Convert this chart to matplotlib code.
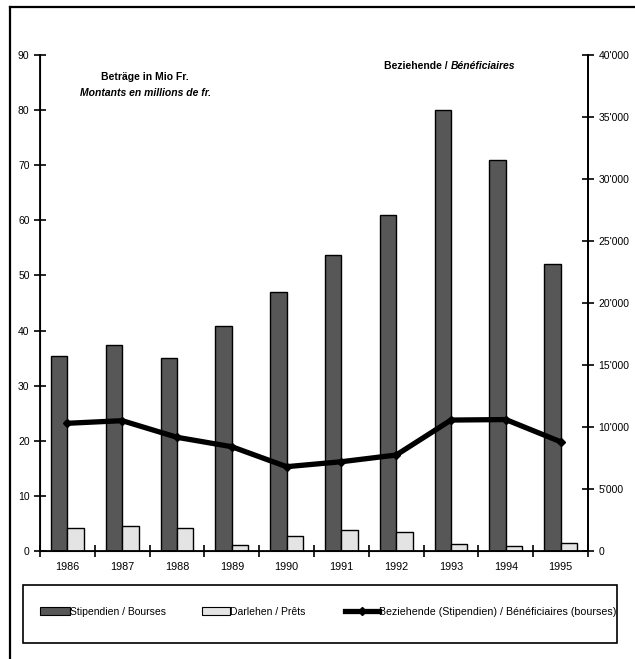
import matplotlib
matplotlib.use("Agg")
import matplotlib.pyplot as plt
from matplotlib.patches import Rectangle, Patch
from matplotlib.lines import Line2D

plt.rcParams['font.family'] = ['Liberation Sans', 'DejaVu Sans']

years = ['1986', '1987', '1988', '1989', '1990', '1991', '1992', '1993', '1994', '1995']
stipendien = [35.4, 37.4, 35.0, 40.8, 47.0, 53.7, 61.0, 80.0, 71.0, 52.0]
darlehen = [4.1, 4.6, 4.1, 1.1, 2.8, 3.8, 3.5, 1.2, 0.9, 1.5]
beziehende = [10300, 10510, 9170, 8410, 6800, 7200, 7740, 10560, 10600, 8810]

left_ticks = list(range(0, 91, 10))
right_ticks = list(range(0, 40001, 5000))
right_labels = ['0' if v == 0 else f"{v // 1000}'{v % 1000:03d}" for v in right_ticks]

W, H = 635, 659
fig = plt.figure(figsize=(W / 100, H / 100), dpi=100)

def fx(px):
    return px / W

def fy(py):
    return 1 - py / H

ax = fig.add_axes([fx(40), fy(551), fx(588) - fx(40), fy(55) - fy(551)])
x = list(range(len(years)))
bw = 0.3
dark = '#575757'
light = '#e4e4e4'
ax.bar([i - bw / 2 for i in x], stipendien, width=bw, color=dark, edgecolor='black', linewidth=1.0, zorder=2)
ax.bar([i + bw / 2 for i in x], darlehen, width=bw, color=light, edgecolor='black', linewidth=1.0, zorder=2)
ax.set_xlim(-0.5, len(years) - 0.5)
ax.set_ylim(0, 90)
ax.set_yticks(left_ticks)
ax.set_xticks(x)
ax.set_xticklabels(years)
ax.set_xticks([i - 0.5 for i in range(len(years) + 1)], minor=True)
ax.tick_params(axis='x', which='major', length=0, pad=8, labelsize=7.8)
ax.tick_params(axis='x', which='minor', direction='inout', length=9, width=1.2)
ax.tick_params(axis='y', direction='inout', length=9, width=1.2, labelsize=7.5, pad=3)
ax.spines['top'].set_visible(False)
for s in ['left', 'right', 'bottom']:
    ax.spines[s].set_linewidth(1.3)

ax2 = ax.twinx()
ax2.plot(x, beziehende, color='black', linewidth=3.8, marker='D', markersize=4, zorder=5)
ax2.set_ylim(0, 40000)
ax2.set_yticks(right_ticks)
ax2.set_yticklabels(right_labels)
ax2.tick_params(axis='y', direction='inout', length=9, width=1.2, labelsize=7.5, pad=3)
ax2.spines['top'].set_visible(False)
ax2.spines['right'].set_linewidth(1.3)

fig.text(fx(145), fy(77), 'Beträge in Mio Fr.', ha='center', va='center', fontsize=7.5, fontweight='bold')
fig.text(fx(145), fy(93), 'Montants en millions de fr.', ha='center', va='center', fontsize=7.5,
         fontweight='bold', fontstyle='italic')
fig.text(fx(451), fy(66), 'Beziehende / ', ha='right', va='center', fontsize=7.5, fontweight='bold')
fig.text(fx(451), fy(66), 'Bénéficiaires', ha='left', va='center', fontsize=7.5, fontweight='bold',
         fontstyle='italic')

# outer frame (top & left)
fig.add_artist(Line2D([fx(10), 1.0], [fy(7), fy(7)], color='black', linewidth=1.6))
fig.add_artist(Line2D([fx(10), fx(10)], [fy(7), 0.0], color='black', linewidth=1.6))

# legend box
fig.add_artist(Rectangle((fx(23), fy(643)), fx(617) - fx(23), fy(585) - fy(643), fill=False,
                         edgecolor='black', linewidth=1.2))
handles = [Patch(facecolor=dark, edgecolor='black', linewidth=0.8),
           Patch(facecolor=light, edgecolor='black', linewidth=0.8),
           Line2D([], [], color='black', linewidth=3.8, marker='D', markersize=4)]
labels = ['Stipendien / Bourses', 'Darlehen / Prêts', 'Beziehende (Stipendien) / Bénéficiaires (bourses)']
starts = [40, 202, 345]
hlens = [2.9, 2.7, 3.2]
sizes = [7.5, 7.5, 7.7]
for h, lab, sx, hl, fs in zip(handles, labels, starts, hlens, sizes):
    fig.legend([h], [lab], loc='center left', bbox_to_anchor=(fx(sx), fy(612)), frameon=False,
               fontsize=fs, handlelength=hl, handleheight=0.8, handletextpad=0.0,
               borderpad=0.0, borderaxespad=0.0)

fig.savefig('out.png', dpi=100)
